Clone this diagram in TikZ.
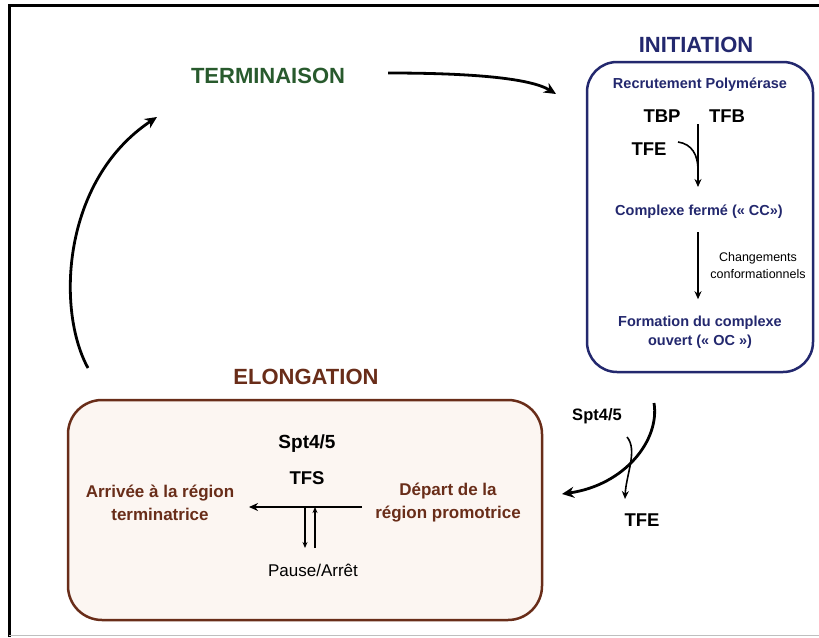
\documentclass[tikz,border=0pt]{standalone}
\usepackage{fontspec}
\setmainfont{Liberation Sans}
\usetikzlibrary{arrows.meta}

\definecolor{initblue}{RGB}{35,40,110}
\definecolor{elongbrown}{RGB}{105,45,25}
\definecolor{termgreen}{RGB}{40,90,45}
\definecolor{elongfill}{RGB}{252,246,242}

\tikzset{
	title/.style={font=\fontsize{22}{26}\selectfont\bfseries},
	bluetext/.style={text=initblue, font=\fontsize{14.5}{19}\selectfont\bfseries, align=center},
	browntext/.style={text=elongbrown, font=\fontsize{17}{23}\selectfont\bfseries, align=center},
	factor/.style={font=\fontsize{18.5}{22}\selectfont\bfseries},
	bigarrow/.style={line width=2.8pt, -{Stealth[length=12pt,width=11pt]}},
	smallarrow/.style={line width=1.6pt, -{Stealth[length=8pt,width=7pt]}},
	thinarrow/.style={line width=1.2pt, -{Stealth[length=6pt,width=5pt]}},
}

\begin{document}
\begin{tikzpicture}[x=1pt,y=-1pt]
	\useasboundingbox (0,0) rectangle (819,637);

	% frame
	\draw[line width=3pt] (9,637) -- (9,5) -- (819,5);
	\draw[black!25, line width=1pt] (9,635) -- (819,635);

	% boxes
	\node[draw=initblue, line width=2.5pt, rounded corners=30pt, fill=white,
		minimum width=226pt, minimum height=310pt] (initbox) at (700,217) {};
	\node[draw=elongbrown, line width=2.5pt, rounded corners=34pt, fill=elongfill,
		minimum width=474pt, minimum height=220pt] (elongbox) at (305,510) {};

	% titles
	\node[title, text=initblue] (initiation) at (696,45) {INITIATION};
	\node[title, text=termgreen] (terminaison) at (268,76) {TERMINAISON};
	\node[title, text=elongbrown] (elongation) at (306,377) {ELONGATION};

	% initiation
	\node[bluetext] (recrut) at (700,85) {Recrutement Polymérase};
	\node[factor] (tbp) at (662,116) {TBP};
	\node[factor] (tfb) at (727,116) {TFB};
	\node[factor] (tfea) at (649,149) {TFE};
	\node[bluetext] (cc) at (699,212) {Complexe fermé (« CC»)};
	\node[font=\fontsize{12.5}{17}\selectfont, align=center] (chg) at (758,266) {Changements\\conformationnels};
	\node[bluetext] (oc) at (700,332) {Formation du complexe\\ouvert (« OC »)};

	\coordinate (recdown) at (698,124);
	\coordinate (ccup) at (698,187);
	\coordinate (tfestart) at (678,142);
	\coordinate (tfejoin) at (698,170);
	\draw[smallarrow] (recdown) -- (ccup);
	\draw[line width=1.6pt] (tfestart) .. controls (692,144) and (698,155) .. (tfejoin);
	\draw[smallarrow, shorten <=10pt, shorten >=13pt] (cc.south -| recdown) -- (oc.north -| recdown);

	% elongation
	\node[factor, font=\fontsize{19}{22}\selectfont\bfseries] (spt) at (307,444) {Spt4/5};
	\node[factor] (tfs) at (307,478) {TFS};
	\node[browntext] (arrivee) at (160,503) {Arrivée à la région\\terminatrice};
	\node[browntext] (depart) at (448,503) {Départ de la\\région promotrice};
	\node[font=\fontsize{17}{20}\selectfont] (pause) at (313,570) {Pause/Arrêt};

	\coordinate (elstart) at (362,507);
	\coordinate (elend) at (249,507);
	\coordinate (pausetop) at (305,508);
	\coordinate (pausebot) at (305,548);
	\coordinate (resumebot) at (315,548);
	\coordinate (resumetop) at (315,507);
	\draw[line width=2.2pt, -{Stealth[length=9pt,width=8pt]}] (elstart) -- (elend);
	\draw[thinarrow] (pausetop) -- (pausebot);
	\draw[thinarrow] (resumebot) -- (resumetop);

	% transitions
	\node[factor, font=\fontsize{16.5}{20}\selectfont\bfseries] (sptb) at (597,416) {Spt4/5};
	\node[factor] (tfeb) at (642,520) {TFE};

	\coordinate (termout) at (388,73);
	\coordinate (initin) at (556,94);
	\coordinate (ocout) at (654,403);
	\coordinate (elongin) at (562,494);
	\coordinate (tfeoff) at (627,437);
	\coordinate (tfeend) at (625,499);
	\coordinate (elongout) at (88,368);
	\coordinate (termin) at (157,117);

	\draw[bigarrow] (termout) .. controls (470,73) and (530,78) .. (initin);
	\draw[bigarrow] (ocout) .. controls (660,440) and (625,485) .. (elongin);
	\draw[line width=1.6pt, -{Stealth[length=8pt,width=7pt]}] (tfeoff) .. controls (638,450) and (626,475) .. (tfeend);
	\draw[bigarrow] (elongout) .. controls (56,310) and (62,180) .. (termin);

\end{tikzpicture}
\end{document}
